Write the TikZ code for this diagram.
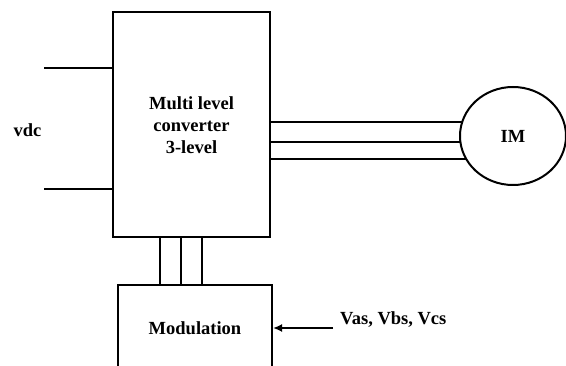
\documentclass[tikz,border=0pt]{standalone}
\usepackage{fontspec}
\setmainfont{Liberation Serif}
\usetikzlibrary{arrows.meta,backgrounds,shapes.geometric}
\begin{document}
\begin{tikzpicture}[x=1pt,y=-1pt,
  box/.style={draw,line width=2pt,inner sep=0pt,align=center},
  wire/.style={line width=2pt},
  lbl/.style={inner sep=0pt},
  every node/.append style={font=\fontsize{18.5}{22}\selectfont\bfseries}]
\useasboundingbox (0,0) rectangle (566,366);
\clip (0,0) rectangle (566,366);
\node[box,minimum width=157pt,minimum height=225pt] (conv) at (191.5,125)
  {Multi level\\converter\\3-level};
\node[box,minimum width=154pt,minimum height=86pt] (mod) at (195,328) {Modulation};
\node[box,ellipse,fill=white,minimum width=106pt,minimum height=98pt] (im) at (513,136) {IM};
\node[lbl] (vdc) at (27.5,130) {vdc};
\node[lbl,anchor=west] (vin) at (340,320) {Vas, Vbs, Vcs};
\coordinate (da) at (44,68);
\coordinate (db) at (44,189);
\coordinate (vs) at (333,328);
\draw[wire] (da) -- (conv.west |- da);
\draw[wire] (db) -- (conv.west |- db);
\begin{scope}[on background layer]
\foreach \yy in {122,142,159}
  \draw[wire] (conv.east |- 0,\yy) -- (im.center |- 0,\yy);
\end{scope}
\foreach \xx in {160,181,202}
  \draw[wire] (conv.south -| \xx,0) -- (mod.north -| \xx,0);
\draw[wire,-{Latex[length=9pt,width=8pt]}] (vs) -- (mod.east);
\end{tikzpicture}
\end{document}
